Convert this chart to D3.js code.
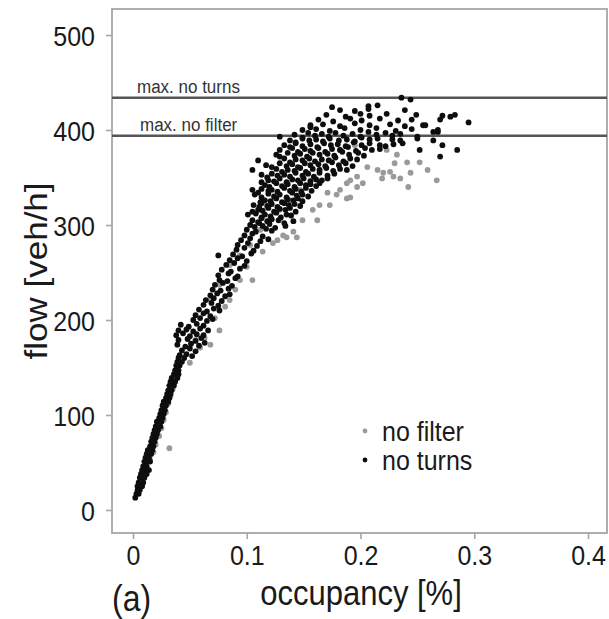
<!DOCTYPE html>
<html>
<head>
<meta charset="utf-8">
<script src="https://cdn.jsdelivr.net/npm/d3@7/dist/d3.min.js"></script>
<style>
  body { margin: 0; background: #fff; }
  svg { display: block; font-family: "Liberation Sans", Arial, Helvetica, sans-serif; }
</style>
</head>
<body>
<svg id="chart" width="609" height="619"></svg>
<script>
// axis ticks
var xTicks = [0, 0.1, 0.2, 0.3, 0.4];
var yTicks = [0, 100, 200, 300, 400, 500];

// horizontal reference levels [veh/h]
var refLabels = ["max. no turns", "max. no filter"];
var refFlows = [434, 394];

// legend
var seriesNames = ["no filter", "no turns"];

// [occupancy, flow] - "no filter" (grey)
var noFilter = [
  [0.004,19],[0.007,27],[0.010,36],[0.012,44],[0.015,53],[0.018,61],[0.020,69],[0.023,78],
  [0.025,86],[0.027,95],[0.029,103],[0.031,112],[0.033,120],[0.035,128],[0.037,137],[0.039,145],
  [0.032,65],
  [0.050,155],[0.059,171],[0.055,179],[0.063,181],[0.068,174],[0.076,189],[0.081,214],[0.072,202],
  [0.085,221],[0.090,232],[0.094,242],[0.100,256],[0.105,242],[0.114,272],[0.123,281],[0.132,289],
  [0.141,293],[0.127,284],[0.135,287],[0.144,287],[0.149,305],[0.162,305],[0.158,316],[0.164,321],
  [0.173,321],[0.179,332],[0.188,328],[0.182,337],[0.171,334],[0.191,329],[0.191,347],[0.197,340],
  [0.197,351],[0.188,344],[0.202,344],[0.206,361],[0.215,358],[0.220,355],[0.229,351],[0.232,374],
  [0.223,379],[0.241,366],[0.244,355],[0.252,366],[0.259,358],[0.267,347],[0.242,340],[0.226,356],
  [0.219,349],[0.235,349],[0.230,365],
  [0.112,295],[0.120,305],[0.129,316],[0.138,326],[0.147,337],[0.156,347],[0.164,358],[0.173,368],
  [0.182,379],[0.195,384],[0.103,279],[0.094,268],[0.085,258],[0.076,237],[0.068,221]
];

// [occupancy, flow] - "no turns" (black)
var noTurns = [
  [0.002,13],[0.003,17],[0.005,17],[0.004,21],[0.006,21],[0.004,25],[0.008,25],[0.005,29],[0.009,29],
  [0.006,34],[0.010,34],[0.007,38],[0.011,38],[0.012,38],[0.008,42],[0.011,42],[0.014,42],[0.009,46],
  [0.012,46],[0.010,51],[0.013,51],[0.015,51],[0.011,55],[0.014,55],[0.012,59],[0.016,59],[0.013,63],
  [0.017,63],[0.015,67],[0.018,67],[0.016,72],[0.019,72],[0.017,76],[0.020,76],[0.018,80],[0.021,80],
  [0.019,84],[0.022,84],[0.020,88],[0.024,88],[0.021,93],[0.025,93],[0.023,97],[0.026,97],[0.024,101],
  [0.027,101],[0.025,105],[0.028,105],[0.026,110],[0.029,110],[0.027,114],[0.031,114],[0.029,118],
  [0.032,118],[0.030,122],[0.033,122],[0.031,126],[0.034,126],[0.032,131],[0.036,131],[0.033,135],
  [0.037,135],[0.034,139],[0.039,139],[0.036,143],[0.040,143],[0.037,147],[0.040,147],[0.038,152],
  [0.041,152],[0.039,156],[0.043,156],[0.040,160],[0.045,160],
  [0.041,163],[0.047,164],[0.052,162],
  [0.043,168],[0.050,170],[0.055,167],
  [0.039,174],[0.046,172],[0.051,175],[0.058,173],[0.063,176],
  [0.040,179],[0.048,180],[0.055,178],[0.060,181],
  [0.038,184],[0.044,186],[0.050,183],[0.056,185],[0.062,184],
  [0.040,189],[0.047,190],[0.053,188],[0.059,191],[0.066,189],
  [0.042,195],[0.049,193],[0.056,196],[0.062,194],
  [0.053,200],[0.059,202],[0.065,199],[0.070,201],
  [0.055,205],[0.062,207],[0.068,204],
  [0.058,211],[0.065,209],[0.071,212],[0.076,210],
  [0.062,216],[0.069,218],[0.075,215],
  [0.064,221],[0.071,223],[0.078,220],
  [0.068,226],[0.074,228],[0.081,225],[0.085,227],
  [0.070,232],[0.077,231],[0.084,233],
  [0.072,237],[0.079,239],[0.087,236],
  [0.076,242],[0.083,241],[0.090,244],
  [0.075,247],[0.084,249],[0.092,246],
  [0.078,253],[0.086,251],[0.094,254],
  [0.082,258],[0.089,260],[0.098,257],
  [0.085,263],[0.092,265],[0.100,262],
  [0.075,268],[0.088,269],[0.096,267],[0.104,270],
  [0.091,274],[0.098,276],[0.106,273],
  [0.092,279],[0.101,281],[0.109,278],
  [0.095,284],[0.103,286],[0.112,283],[0.119,285],
  [0.098,289],[0.105,291],[0.114,288],
  [0.100,295],[0.108,293],[0.117,296],[0.122,294],
  [0.107,298],[0.114,299],[0.125,297],[0.134,299],
  [0.103,300],[0.111,302],[0.120,301],
  [0.110,303],[0.118,304],[0.133,302],[0.141,304],
  [0.105,305],[0.113,307],[0.122,306],[0.128,305],
  [0.113,308],[0.121,309],[0.130,308],[0.139,310],
  [0.101,311],[0.108,312],[0.116,311],[0.126,313],[0.135,311],
  [0.105,314],[0.114,315],[0.124,314],[0.134,316],[0.143,314],
  [0.110,316],[0.119,318],[0.129,317],[0.138,318],
  [0.111,319],[0.118,320],[0.127,319],[0.137,321],[0.147,320],
  [0.106,321],[0.113,323],[0.122,322],[0.133,323],[0.142,322],
  [0.112,324],[0.121,325],[0.131,324],[0.141,326],[0.149,325],
  [0.116,326],[0.126,328],[0.136,327],[0.145,328],
  [0.113,329],[0.124,330],[0.135,329],[0.144,331],[0.154,330],
  [0.107,332],[0.119,333],[0.129,332],[0.140,334],[0.149,332],
  [0.110,334],[0.119,336],[0.127,335],[0.138,336],[0.148,335],[0.157,336],
  [0.105,337],[0.113,338],[0.122,337],[0.133,339],[0.143,338],[0.152,339],
  [0.120,340],[0.131,341],[0.142,340],[0.152,342],[0.161,341],
  [0.116,342],[0.126,344],[0.136,343],[0.147,344],[0.156,343],[0.164,344],
  [0.113,345],[0.124,346],[0.135,345],[0.145,347],[0.156,346],[0.166,347],
  [0.119,347],[0.129,349],[0.140,348],[0.150,349],[0.161,348],[0.171,349],
  [0.118,350],[0.127,352],[0.138,351],[0.149,352],[0.159,351],[0.171,352],
  [0.113,353],[0.122,354],[0.133,353],[0.143,355],[0.154,354],[0.164,355],[0.177,354],
  [0.131,356],[0.142,357],[0.152,356],[0.164,358],[0.176,357],[0.188,358],
  [0.105,358],[0.126,359],[0.136,358],[0.147,360],[0.158,359],[0.170,360],[0.182,359],
  [0.122,361],[0.135,362],[0.145,361],[0.156,363],[0.169,362],[0.181,363],[0.193,362],
  [0.117,363],[0.129,365],[0.140,364],[0.151,365],[0.163,364],[0.175,366],[0.187,365],
  [0.138,366],[0.149,368],[0.160,367],[0.172,368],[0.185,367],[0.197,369],
  [0.110,368],[0.133,370],[0.143,369],[0.155,370],[0.166,369],[0.178,371],[0.191,370],
  [0.129,372],[0.142,373],[0.153,372],[0.164,374],[0.177,373],[0.190,374],[0.203,373],
  [0.126,374],[0.136,376],[0.147,375],[0.158,376],[0.171,375],[0.184,377],[0.198,376],
  [0.145,377],[0.156,378],[0.169,377],[0.182,379],[0.196,378],[0.210,379],
  [0.129,379],[0.140,381],[0.151,380],[0.163,381],[0.175,380],[0.189,382],[0.204,381],[0.217,380],
  [0.138,382],[0.149,383],[0.162,382],[0.174,384],[0.187,383],[0.201,384],[0.222,383],
  [0.133,384],[0.143,386],[0.156,385],[0.168,386],[0.180,385],[0.194,387],[0.208,386],[0.229,385],[0.237,386],
  [0.143,387],[0.155,389],[0.167,388],[0.181,389],[0.195,388],[0.208,390],[0.235,389],
  [0.138,389],[0.149,391],[0.161,390],[0.173,391],[0.188,390],[0.201,392],[0.215,391],[0.228,390],[0.250,391],[0.264,389],
  [0.149,392],[0.160,394],[0.172,393],[0.185,394],[0.200,393],[0.214,395],[0.228,394],
  [0.142,395],[0.154,397],[0.166,396],[0.178,397],[0.193,396],[0.207,398],[0.222,397],[0.235,396],
  [0.149,400],[0.161,401],[0.173,399],[0.186,402],[0.200,400],[0.214,402],[0.231,399],[0.245,401],[0.268,400],
  [0.156,405],[0.167,406],[0.182,404],[0.195,407],[0.208,405],[0.226,406],[0.239,404],[0.257,405],
  [0.163,411],[0.176,409],[0.191,412],[0.201,410],[0.217,412],[0.233,410],[0.245,411],[0.270,411],
  [0.170,416],[0.187,414],[0.200,417],[0.208,415],[0.223,417],[0.249,416],[0.272,415],[0.283,416],
  [0.182,421],[0.195,420],[0.207,422],[0.239,421],
  [0.175,424],[0.207,425],[0.215,426],[0.244,432],[0.236,434],
  [0.129,393],[0.156,403],[0.295,408],[0.285,379],[0.270,372],[0.279,414],[0.252,379],[0.217,384],
  [0.272,384],[0.264,398],[0.268,398],[0.255,405],[0.250,393]
];

var svg = d3.select("#chart");

var frame = { left: 112, top: 9, right: 607, bottom: 533 };
var textStretch = "scale(1,1.13)";

var x = d3.scaleLinear().domain([0, 0.4]).range([133, 588]);
var y = d3.scaleLinear().domain([0, 500]).range([510, 35]);

// slight softening, the reference is a blurry scan
var defs = svg.append("defs");
defs.append("filter").attr("id", "soft")
    .append("feGaussianBlur").attr("stdDeviation", 0.6);

// frame
svg.append("rect")
    .attr("x", frame.left)
    .attr("y", frame.top)
    .attr("width", frame.right - frame.left)
    .attr("height", frame.bottom - frame.top)
    .attr("fill", "none")
    .attr("stroke", "#a6a6a6")
    .attr("stroke-width", 1.8);

// axes
var yAxis = d3.axisLeft(y)
    .tickValues(yTicks)
    .tickSize(6)
    .tickPadding(11)
    .tickFormat(d3.format("d"));

var gy = svg.append("g")
    .attr("transform", "translate(" + frame.left + ",0)")
    .call(yAxis);

var xAxis = d3.axisBottom(x)
    .tickValues(xTicks)
    .tickSize(6)
    .tickFormat(d3.format("~g"));

var gx = svg.append("g")
    .attr("transform", "translate(0," + frame.bottom + ")")
    .call(xAxis);

[gx, gy].forEach(function (g) {
    g.select(".domain").remove();
    g.selectAll(".tick line").attr("stroke", "#a6a6a6").attr("stroke-width", 1.6);
    g.selectAll(".tick text")
        .attr("fill", "#1a1a1a")
        .style("font-size", "25px")
        .style("font-family", "'Liberation Sans', Arial, sans-serif");
});
gy.selectAll(".tick text").attr("dy", "0.36em").attr("transform", textStretch);
gx.selectAll(".tick text").attr("y", 0).attr("dy", null)
    .attr("transform", "translate(0,32) " + textStretch);

// reference lines
var refs = refFlows.map(function (f, i) { return { flow: f, label: refLabels[i] }; });

svg.selectAll(".refline")
    .data(refs)
    .enter().append("line")
    .attr("class", "refline")
    .attr("x1", frame.left)
    .attr("x2", frame.right)
    .attr("y1", function (d) { return y(d.flow); })
    .attr("y2", function (d) { return y(d.flow); })
    .attr("stroke", "#555")
    .attr("stroke-width", 2.4);

svg.selectAll(".reflabel")
    .data(refs)
    .enter().append("text")
    .attr("class", "reflabel")
    .attr("transform", function (d, i) {
        return "translate(" + (frame.left + 25 + i * 3) + "," + (y(d.flow) - 5) + ") " + textStretch;
    })
    .attr("fill", "#333")
    .style("font-size", "17px")
    .text(function (d) { return d.label; });

// points: grey first, black on top
var dots = svg.append("g").attr("filter", "url(#soft)");

dots.selectAll(".nofilter")
    .data(noFilter)
    .enter().append("circle")
    .attr("class", "nofilter")
    .attr("cx", function (d) { return x(d[0]); })
    .attr("cy", function (d) { return y(d[1]); })
    .attr("r", 2.9)
    .attr("fill", "#9a9a9a");

dots.selectAll(".noturns")
    .data(noTurns)
    .enter().append("circle")
    .attr("class", "noturns")
    .attr("cx", function (d) { return x(d[0]); })
    .attr("cy", function (d) { return y(d[1]); })
    .attr("r", 2.9)
    .attr("fill", "#0d0d0d");

// legend
var legendColors = ["#9a9a9a", "#0d0d0d"];
var legend = svg.append("g").attr("transform", "translate(365,431)");

legend.selectAll("circle")
    .data(seriesNames)
    .enter().append("circle")
    .attr("cx", 0)
    .attr("cy", function (d, i) { return i * 29; })
    .attr("r", 2.4)
    .attr("fill", function (d, i) { return legendColors[i]; });

legend.selectAll("text")
    .data(seriesNames)
    .enter().append("text")
    .attr("transform", function (d, i) { return "translate(17," + (i * 29 + 10) + ") " + textStretch; })
    .attr("fill", "#1a1a1a")
    .style("font-size", "25px")
    .text(function (d) { return d; });

// axis titles
svg.append("text")
    .attr("transform", "translate(361,605) " + textStretch)
    .attr("text-anchor", "middle")
    .attr("fill", "#1a1a1a")
    .style("font-size", "31px")
    .text("occupancy [%]");

svg.append("text")
    .attr("transform", "translate(47,271) rotate(-90) scale(1.13,1)")
    .attr("text-anchor", "middle")
    .attr("fill", "#1a1a1a")
    .style("font-size", "31px")
    .text("flow [veh/h]");

svg.append("text")
    .attr("transform", "translate(112,611) " + textStretch)
    .attr("fill", "#1a1a1a")
    .style("font-size", "32px")
    .text("(a)");
</script>
</body>
</html>
